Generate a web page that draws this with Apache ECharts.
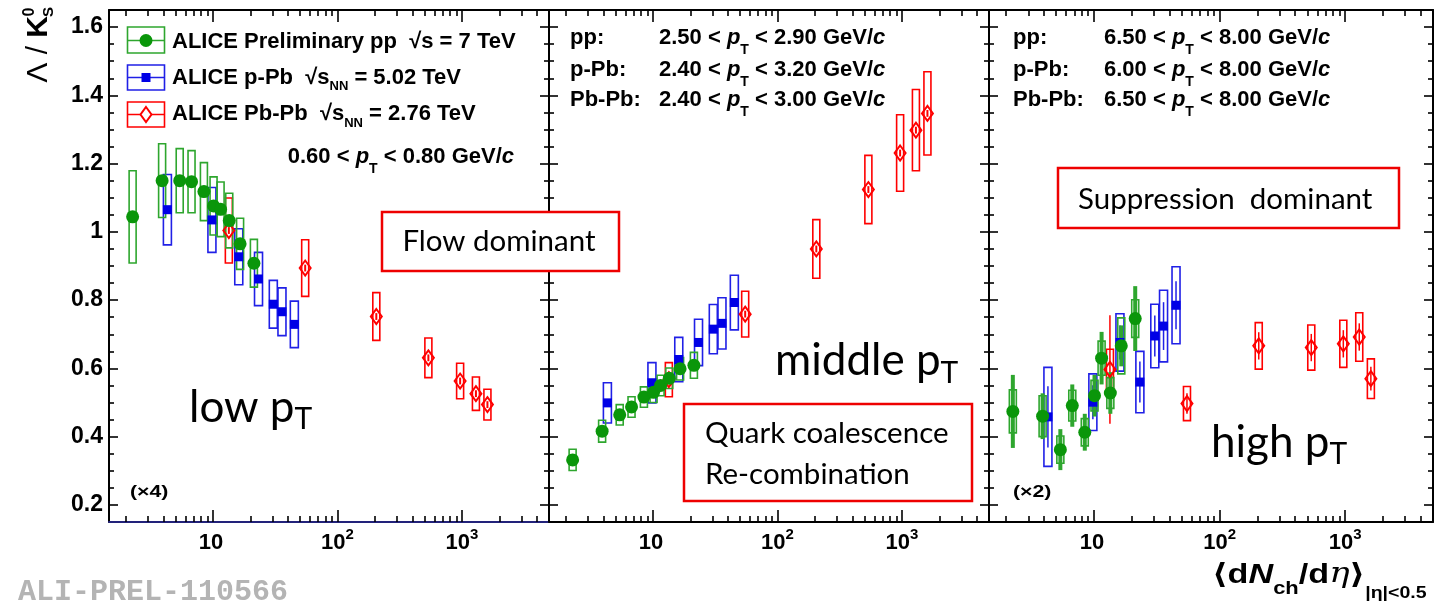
<!DOCTYPE html>
<html><head><meta charset="utf-8">
<script src="https://cdn.jsdelivr.net/npm/echarts@6/dist/echarts.min.js"></script>
<style>html,body{margin:0;padding:0;background:#fff}#c{width:1447px;height:603px}</style>
</head><body><div id="c"></div><script>
// ---------------- DATA ----------------
const ppX   = [2.26, 3.90, 5.40, 6.72, 8.45, 10.1, 11.5, 13.5, 16.5, 21.3];
const pPbX  = [4.3, 9.8, 16.1, 23.2, 30.5, 35.8, 45.0];
const PbPbX = [13.4, 55, 205, 537, 966, 1294, 1601];

// low pT (0.6-0.8 GeV/c)
const ppLowY    = [1.044, 1.150, 1.150, 1.147, 1.118, 1.076, 1.066, 1.033, 0.965, 0.908];
const ppLowSys  = [0.135, 0.108, 0.094, 0.091, 0.085, 0.085, 0.080, 0.080, 0.075, 0.070];
const ppLowStat = [0.010, 0.010, 0.010, 0.010, 0.010, 0.010, 0.010, 0.010, 0.010, 0.010];
const pPbLowY    = [1.065, 1.035, 0.927, 0.862, 0.788, 0.766, 0.729];
const pPbLowSys  = [0.103, 0.095, 0.082, 0.078, 0.070, 0.070, 0.068];
const pPbLowStat = [0.008, 0.008, 0.008, 0.008, 0.008, 0.008, 0.008];
const PbPbLowY    = [1.004, 0.894, 0.752, 0.631, 0.563, 0.526, 0.494];
const PbPbLowSys  = [0.095, 0.083, 0.070, 0.058, 0.052, 0.049, 0.045];
const PbPbLowStat = [0.010, 0.010, 0.010, 0.010, 0.010, 0.010, 0.010];

// middle pT
const ppMidY    = [0.332, 0.416, 0.464, 0.487, 0.516, 0.530, 0.550, 0.571, 0.599, 0.609];
const ppMidSys  = [0.031, 0.032, 0.030, 0.030, 0.030, 0.030, 0.030, 0.030, 0.033, 0.038];
const ppMidStat = [0.008, 0.008, 0.008, 0.008, 0.008, 0.008, 0.008, 0.008, 0.008, 0.008];
const pPbMidY    = [0.499, 0.558, 0.626, 0.676, 0.715, 0.732, 0.793];
const pPbMidSys  = [0.059, 0.059, 0.065, 0.068, 0.072, 0.075, 0.080];
const pPbMidStat = [0.008, 0.008, 0.008, 0.008, 0.008, 0.008, 0.008];
const PbPbMidY    = [0.567, 0.759, 0.950, 1.124, 1.231, 1.298, 1.347];
const PbPbMidSys  = [0.050, 0.067, 0.086, 0.100, 0.112, 0.119, 0.122];
const PbPbMidStat = [0.010, 0.010, 0.010, 0.010, 0.010, 0.010, 0.010];

// high pT
const ppHighY    = [0.474, 0.460, 0.362, 0.491, 0.413, 0.520, 0.630, 0.528, 0.666, 0.746];
const ppHighSys  = [0.063, 0.060, 0.040, 0.045, 0.040, 0.045, 0.050, 0.045, 0.082, 0.055];
const ppHighStat = [0.107, 0.067, 0.060, 0.062, 0.054, 0.061, 0.077, 0.061, 0.060, 0.095];
const pPbHighY    = [0.458, 0.501, 0.676, 0.560, 0.695, 0.724, 0.785];
const pPbHighSys  = [0.145, 0.083, 0.084, 0.090, 0.093, 0.105, 0.113];
const pPbHighStat = [0.090, 0.050, 0.050, 0.060, 0.060, 0.070, 0.070];
const PbPbHighY    = [0.597, 0.497, 0.666, 0.661, 0.672, 0.692, 0.570];
const PbPbHighSys  = [0.059, 0.050, 0.068, 0.066, 0.069, 0.071, 0.058];
const PbPbHighStat = [0.159, 0.030, 0.040, 0.040, 0.040, 0.040, 0.035];

// axes
const xMajorTicks = [10, 100, 1000];
const xMinorTicks = [2,3,4,5,6,7,8,9,20,30,40,50,60,70,80,90,200,300,400,500,600,700,800,900,2000,3000,4000,5000];
const yMajorTicks = [0.2, 0.4, 0.6, 0.8, 1.0, 1.2, 1.4, 1.6];
const yMinorTicks = [0.25,0.3,0.35,0.45,0.5,0.55,0.65,0.7,0.75,0.85,0.9,0.95,1.05,1.1,1.15,1.25,1.3,1.35,1.45,1.5,1.55,1.65];
const X_MIN = 1.46, X_MAX = 5000, Y_MIN = 0.15, Y_MAX = 1.65;

// ---------------- STYLE ----------------
const HEL = '"Liberation Sans", Arial, "DejaVu Sans", sans-serif';
const CAL = 'Lato, "Open Sans", sans-serif';
const GREEN = '#0a960a', GREEN_BOX = '#2ea62e';
const BLUE = '#0000e6', BLUE_BOX = '#2020e6';
const RED = '#ff0000';
const GRIDS = [{left:109, width:440}, {left:549, width:440}, {left:989, width:444}];

function xAxesFor(gi, lineColor) {
  const base = {type:'log', logBase:10, min:X_MIN, max:X_MAX, gridIndex:gi,
    splitLine:{show:false}, minorTick:{show:false}, minorSplitLine:{show:false}, silent:true};
  const tickLS = {color:'#000', width:1.6};
  return [
    Object.assign({}, base, {position:'bottom',
      axisLine:{show:true, onZero:false, lineStyle:{color:lineColor, width:2}},
      axisTick:{show:true, inside:true, length:12, customValues:xMajorTicks, lineStyle:tickLS},
      axisLabel:{show:true, customValues:xMajorTicks, margin:5,
        formatter: v => v < 50 ? '{b|10}{s| }' : '{b|10}{s|' + Math.round(Math.log10(v)) + '}',
        rich:{
          b:{fontSize:22, fontWeight:'bold', fontFamily:HEL, color:'#000', verticalAlign:'bottom'},
          s:{fontSize:15, fontWeight:'bold', fontFamily:HEL, color:'#000', verticalAlign:'top', padding:[0,0,11.5,0]}
        }}}),
    Object.assign({}, base, {position:'bottom', axisLine:{show:false, onZero:false},
      axisTick:{show:true, inside:true, length:6, customValues:xMinorTicks, lineStyle:tickLS}, axisLabel:{show:false}}),
    Object.assign({}, base, {position:'top',
      axisLine:{show:true, onZero:false, lineStyle:{color:'#000', width:2}},
      axisTick:{show:true, inside:true, length:12, customValues:xMajorTicks, lineStyle:tickLS}, axisLabel:{show:false}}),
    Object.assign({}, base, {position:'top', axisLine:{show:false, onZero:false},
      axisTick:{show:true, inside:true, length:6, customValues:xMinorTicks, lineStyle:tickLS}, axisLabel:{show:false}})
  ];
}
function yAxesFor(gi, showLabels) {
  const base = {type:'value', min:Y_MIN, max:Y_MAX, gridIndex:gi, splitLine:{show:false}, silent:true};
  const tickLS = {color:'#000', width:1.6};
  return [
    Object.assign({}, base, {position:'left',
      axisLine:{show:true, onZero:false, lineStyle:{color:'#000', width:2}},
      axisTick:{show:true, inside:true, length:9, customValues:yMajorTicks, lineStyle:tickLS},
      axisLabel:{show:showLabels, customValues:yMajorTicks, margin:6, fontSize:23, fontWeight:'bold', fontFamily:HEL, color:'#000',
        formatter: v => Math.abs(v-1) < 1e-9 ? '1' : v.toFixed(1)}}),
    Object.assign({}, base, {position:'left', axisLine:{show:false, onZero:false},
      axisTick:{show:true, inside:true, length:5, customValues:yMinorTicks, lineStyle:tickLS}, axisLabel:{show:false}}),
    Object.assign({}, base, {position:'right',
      axisLine:{show:true, onZero:false, lineStyle:{color:'#000', width:2}},
      axisTick:{show:true, inside:true, length:9, customValues:yMajorTicks, lineStyle:tickLS}, axisLabel:{show:false}}),
    Object.assign({}, base, {position:'right', axisLine:{show:false, onZero:false},
      axisTick:{show:true, inside:true, length:5, customValues:yMinorTicks, lineStyle:tickLS}, axisLabel:{show:false}})
  ];
}

function boxSeries(gi, xs, ys, sys, stat, color, bw, statW) {
  return {
    type:'custom', xAxisIndex:gi*4, yAxisIndex:gi*4, clip:true, z:3, silent:true,
    data: xs.map((x,i) => [x, ys[i], sys[i], stat[i]]),
    renderItem(params, api) {
      const x = api.value(0), y = api.value(1), s = api.value(2), st = api.value(3);
      const top = api.coord([x, y + s]), bot = api.coord([x, y - s]);
      const t2 = api.coord([x, y + st]), b2 = api.coord([x, y - st]);
      return {type:'group', children:[
        {type:'rect', shape:{x: top[0]-bw/2, y: top[1], width: bw, height: bot[1]-top[1]},
          style:{fill:'none', stroke:color, lineWidth:1.6}},
        {type:'line', shape:{x1:t2[0], y1:t2[1], x2:b2[0], y2:b2[1]}, style:{stroke:color, lineWidth:statW}}
      ]};
    }
  };
}
function markerSeries(gi, xs, ys, kind) {
  const s = {type:'scatter', xAxisIndex:gi*4, yAxisIndex:gi*4, z:5, silent:true,
    data: xs.map((x,i) => [x, ys[i]]), emphasis:{disabled:true}};
  if (kind === 'pp') Object.assign(s, {symbol:'circle', symbolSize:13, itemStyle:{color:GREEN, opacity:1}});
  if (kind === 'pPb') Object.assign(s, {symbol:'rect', symbolSize:9, itemStyle:{color:BLUE, opacity:1}});
  if (kind === 'PbPb') Object.assign(s, {symbol:'diamond', symbolSize:[11,15], itemStyle:{color:'rgba(255,255,255,0)', borderColor:RED, borderWidth:2, opacity:1}});
  return s;
}

const panels = [
  {pp:[ppLowY, ppLowSys, ppLowStat], pPb:[pPbLowY, pPbLowSys, pPbLowStat], PbPb:[PbPbLowY, PbPbLowSys, PbPbLowStat], sw:[2,2,2]},
  {pp:[ppMidY, ppMidSys, ppMidStat], pPb:[pPbMidY, pPbMidSys, pPbMidStat], PbPb:[PbPbMidY, PbPbMidSys, PbPbMidStat], sw:[2,2,2]},
  {pp:[ppHighY, ppHighSys, ppHighStat], pPb:[pPbHighY, pPbHighSys, pPbHighStat], PbPb:[PbPbHighY, PbPbHighSys, PbPbHighStat], sw:[4,1.5,1.5]}
];
const series = [];
panels.forEach((p, gi) => {
  series.push(boxSeries(gi, PbPbX, p.PbPb[0], p.PbPb[1], p.PbPb[2], RED, 7, p.sw[2]));
  series.push(boxSeries(gi, pPbX, p.pPb[0], p.pPb[1], p.pPb[2], BLUE_BOX, 8, p.sw[1]));
  series.push(boxSeries(gi, ppX, p.pp[0], p.pp[1], p.pp[2], GREEN_BOX, 7, p.sw[0]));
  series.push(markerSeries(gi, PbPbX, p.PbPb[0], 'PbPb'));
  series.push(markerSeries(gi, pPbX, p.pPb[0], 'pPb'));
  series.push(markerSeries(gi, ppX, p.pp[0], 'pp'));
});

// --------------- TEXT / GRAPHICS ---------------
// main tokens top-aligned (centre at M/2); subscript dropped by d
function rootRich(M, m, d) {
  return {
    n:{fontSize:M, fontWeight:'bold', fontFamily:HEL, fill:'#000', verticalAlign:'top'},
    i:{fontSize:M, fontWeight:'bold', fontStyle:'italic', fontFamily:HEL, fill:'#000', verticalAlign:'top'},
    s:{fontSize:m, fontWeight:'bold', fontFamily:HEL, fill:'#000', verticalAlign:'bottom', padding:[d + (M-m)/2,0,0,0]}
  };
}
function txt(x, cy, text, rich, M, align) {
  return {type:'text', x:x, y:cy - M/2, z:100, silent:true,
    style:{text:text, rich:rich, align:align||'left', verticalAlign:'top', fill:'#000'}};
}
const legRich = rootRich(22, 13, 9);
const ptRich = rootRich(22, 14, 12);
const bigRich = {
  n:{fontSize:44, fontFamily:CAL, fill:'#000', verticalAlign:'top'},
  s:{fontSize:30, fontFamily:CAL, fill:'#000', verticalAlign:'bottom', padding:[12 + 7,0,0,0]}
};
function bigTxt(x, cy, word) {
  return {type:'text', x:x, y:cy - 22, z:100, silent:true,
    style:{text:'{n|' + word + ' p}{s|T}', rich:bigRich, align:'left', verticalAlign:'top'}};
}
function calTxt(x, cy, s, align) {
  return {type:'text', x:x, y:cy, z:101, silent:true,
    style:{text:s, fontSize:29.5, fontFamily:CAL, fill:'#000', align:align||'left', verticalAlign:'middle'}};
}
function redBox(x, y, w, h) {
  return {type:'rect', z:99, silent:true, shape:{x:x, y:y, width:w, height:h},
    style:{fill:'#fff', stroke:'#ee0000', lineWidth:2.5}};
}

const elements = [
  // legend
  {type:'rect', z:100, shape:{x:127.5, y:27, width:37, height:26}, style:{fill:'none', stroke:GREEN_BOX, lineWidth:1.6}},
  {type:'line', z:100, shape:{x1:127.5, y1:40.5, x2:164.5, y2:40.5}, style:{stroke:GREEN_BOX, lineWidth:1.6}},
  {type:'circle', z:101, shape:{cx:146, cy:40.5, r:6.5}, style:{fill:GREEN}},
  {type:'rect', z:100, shape:{x:127.5, y:65, width:37, height:25}, style:{fill:'none', stroke:BLUE_BOX, lineWidth:1.6}},
  {type:'line', z:100, shape:{x1:127.5, y1:77.5, x2:164.5, y2:77.5}, style:{stroke:BLUE_BOX, lineWidth:1.6}},
  {type:'rect', z:101, shape:{x:141.5, y:73, width:9, height:9}, style:{fill:BLUE}},
  {type:'rect', z:100, shape:{x:127.5, y:102, width:37, height:25}, style:{fill:'none', stroke:RED, lineWidth:1.6}},
  {type:'line', z:100, shape:{x1:127.5, y1:114.5, x2:164.5, y2:114.5}, style:{stroke:RED, lineWidth:1.6}},
  {type:'polygon', z:101, shape:{points:[[146,107],[151.5,114.5],[146,122],[140.5,114.5]]}, style:{fill:'#fff', stroke:RED, lineWidth:2}},
  txt(172, 41.5, '{n|ALICE Preliminary pp  √s = 7 TeV}', legRich, 22),
  txt(172, 77.5, '{n|ALICE p-Pb  √s}{s|NN}{n| = 5.02 TeV}', legRich, 22),
  txt(172, 114, '{n|ALICE Pb-Pb  √s}{s|NN}{n| = 2.76 TeV}', legRich, 22),
  txt(514, 157, '{n|0.60 < }{i|p}{s|T}{n| < 0.80 GeV/}{i|c}', ptRich, 22, 'right'),
  // panel 2 pT ranges
  txt(570, 38, '{n|pp:}', ptRich, 22),
  txt(570, 70, '{n|p-Pb:}', ptRich, 22),
  txt(570, 100, '{n|Pb-Pb:}', ptRich, 22),
  txt(659, 38, '{n|2.50 < }{i|p}{s|T}{n| < 2.90 GeV/}{i|c}', ptRich, 22),
  txt(659, 70, '{n|2.40 < }{i|p}{s|T}{n| < 3.20 GeV/}{i|c}', ptRich, 22),
  txt(659, 100, '{n|2.40 < }{i|p}{s|T}{n| < 3.00 GeV/}{i|c}', ptRich, 22),
  // panel 3 pT ranges
  txt(1013, 38, '{n|pp:}', ptRich, 22),
  txt(1013, 70, '{n|p-Pb:}', ptRich, 22),
  txt(1013, 100, '{n|Pb-Pb:}', ptRich, 22),
  txt(1104, 38, '{n|6.50 < }{i|p}{s|T}{n| < 8.00 GeV/}{i|c}', ptRich, 22),
  txt(1104, 70, '{n|6.00 < }{i|p}{s|T}{n| < 8.00 GeV/}{i|c}', ptRich, 22),
  txt(1104, 100, '{n|6.50 < }{i|p}{s|T}{n| < 8.00 GeV/}{i|c}', ptRich, 22),
  // scale factors
  {type:'text', x:130, y:492, z:100, scaleX:1.25, style:{text:'(×4)', fontSize:17, fontWeight:'bold', fontFamily:HEL, fill:'#000', verticalAlign:'middle'}},
  {type:'text', x:1013, y:492, z:100, scaleX:1.25, style:{text:'(×2)', fontSize:17, fontWeight:'bold', fontFamily:HEL, fill:'#000', verticalAlign:'middle'}},
  // annotation boxes
  redBox(382, 212, 237, 59), calTxt(499, 241, 'Flow dominant', 'center'),
  redBox(684, 404, 288, 97), calTxt(705, 433, 'Quark coalescence'), calTxt(705, 474, 'Re-combination'),
  redBox(1058, 168, 341, 60), calTxt(1078, 199, 'Suppression  dominant'),
  bigTxt(189, 407.7, 'low'), bigTxt(775, 361, 'middle'), bigTxt(1211, 442.7, 'high'),
  // y-axis title (rotated)
  {type:'text', x:39, y:16, rotation:Math.PI/2, z:100,
    style:{text:'{r|Λ / }{b|K}', align:'right', verticalAlign:'middle',
      rich:{r:{fontSize:30, fontFamily:HEL, fill:'#000'}, b:{fontSize:30, fontWeight:'bold', fontFamily:HEL, fill:'#000'}}}},
  {type:'text', x:30, y:12, rotation:Math.PI/2, z:100,
    style:{text:'0', fontSize:16, fontWeight:'bold', fontFamily:HEL, fill:'#000', align:'center', verticalAlign:'middle'}},
  {type:'text', x:49, y:12, rotation:Math.PI/2, z:100,
    style:{text:'S', fontSize:15, fontWeight:'bold', fontFamily:HEL, fill:'#000', align:'center', verticalAlign:'middle'}},
  // x-axis title
  {type:'text', x:1212, y:561, z:100, scaleX:1.22,
    style:{text:'{m|⟨d}{mi|N}{c|ch}{m|/d}{e|η}{m|⟩}{s|\u007Cη\u007C<0.5}', align:'left', verticalAlign:'top',
      rich:{
        m:{fontSize:28, fontWeight:'bold', fontFamily:HEL, fill:'#000', verticalAlign:'top'},
        mi:{fontSize:28, fontWeight:'bold', fontStyle:'italic', fontFamily:HEL, fill:'#000', verticalAlign:'top'},
        e:{fontSize:28, fontStyle:'italic', fontFamily:'"DejaVu Serif", serif', fill:'#000', verticalAlign:'top'},
        c:{fontSize:18, fontWeight:'bold', fontFamily:HEL, fill:'#000', verticalAlign:'bottom', padding:[0,0,4,0]},
        s:{fontSize:16, fontWeight:'bold', fontFamily:HEL, fill:'#000', verticalAlign:'bottom', padding:[25,0,0,0]}
      }}},
  // watermark
  {type:'text', x:18, y:592, z:100,
    style:{text:'ALI-PREL-110566', fontSize:30, fontWeight:'bold', fontFamily:'"Liberation Mono", "DejaVu Sans Mono", monospace', fill:'#b4b4b4', verticalAlign:'middle'}}
];

const xAxis = [].concat(xAxesFor(0, '#22227a'), xAxesFor(1, '#000'), xAxesFor(2, '#000'));
const yAxis = [].concat(yAxesFor(0, true), yAxesFor(1, false), yAxesFor(2, false));

const chart = echarts.init(document.getElementById('c'), null, {renderer:'canvas'});
chart.setOption({
  animation:false,
  backgroundColor:'#fff',
  grid: GRIDS.map(g => ({left:g.left, width:g.width, top:10, height:512, containLabel:false, outerBoundsMode:'none'})),
  xAxis: xAxis,
  yAxis: yAxis,
  series: series,
  graphic: {elements: elements}
});
</script></body></html>
